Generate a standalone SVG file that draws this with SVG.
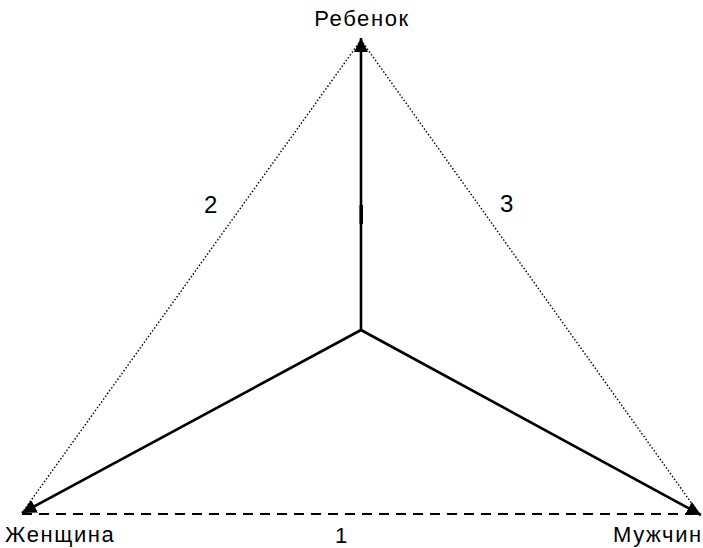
<svg xmlns="http://www.w3.org/2000/svg" width="703" height="548" viewBox="0 0 703 548">
<style>
.lbl{font-family:"Liberation Sans",Arial,sans-serif;font-size:22px;letter-spacing:1.6px;fill:#000}
.num{font-family:"Liberation Sans",Arial,sans-serif;font-size:24px;fill:#000}
.solid{stroke:#000;stroke-width:2.6;fill:none}
.dot{stroke:#000;stroke-width:1.4;stroke-dasharray:1.5 2;fill:none}
.dash{stroke:#000;stroke-width:2;stroke-dasharray:10 7;fill:none}
</style>
<defs>
<marker id="ah" viewBox="0 0 10 10" refX="10" refY="5" markerWidth="5.5" markerHeight="5.5" orient="auto" markerUnits="strokeWidth">
<path d="M0,0 L10,5 L0,10 z" fill="#000"/>
</marker>
</defs>
<rect width="703" height="548" fill="#fff"/>
<g id="connectors">
<line class="dot" x1="361" y1="40" x2="22" y2="513"/>
<line class="dot" x1="361" y1="40" x2="700" y2="515"/>
<line class="dash" x1="22" y1="514" x2="700" y2="514"/>
<line class="solid" x1="361" y1="330" x2="361" y2="38" marker-end="url(#ah)"/>
<line class="solid" x1="361" y1="330" x2="22" y2="513" marker-end="url(#ah)"/>
<line class="solid" x1="361" y1="330" x2="701" y2="515" marker-end="url(#ah)"/>
<rect x="359.5" y="205" width="3.5" height="19" fill="#000"/>
<text class="num" x="204" y="213">2</text>
<text class="num" x="500" y="212">3</text>
<text class="num" x="335" y="543" style="font-size:22px">1</text>
</g>
<g id="node-child"><text class="lbl" x="362" y="26" text-anchor="middle">Ребенок</text></g>
<g id="node-woman"><text class="lbl" x="5" y="542">Женщина</text></g>
<g id="node-man"><text class="lbl" x="613" y="542">Мужчин</text></g>
</svg>
